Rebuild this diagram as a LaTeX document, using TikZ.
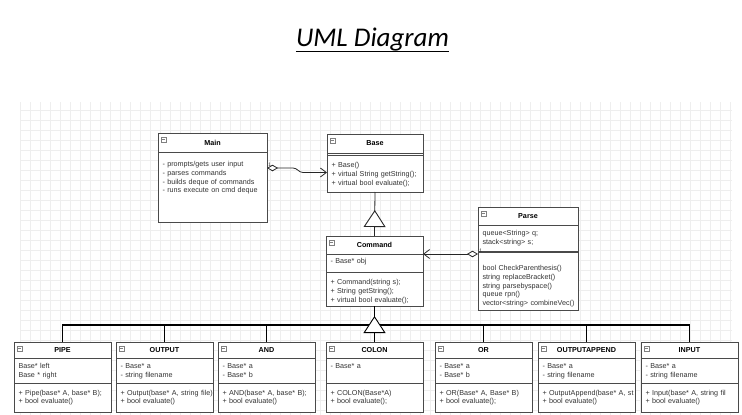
\documentclass[tikz,border=0pt]{standalone}
\usepackage{fontspec}
\setmainfont{Liberation Sans}
\newfontfamily\titlefont{Carlito}
\usetikzlibrary{positioning, arrows.meta, decorations.markings}

\definecolor{umlline}{HTML}{4A4A4A}
\definecolor{umltext}{HTML}{333333}
\definecolor{gridline}{HTML}{EEEEEE}

\begin{document}
\begin{tikzpicture}[x=1pt, y=-1pt,
  cls/.style={draw=umlline, line width=0.8pt, fill=white, inner sep=0pt, outer sep=0pt},
  hdr/.style={cls, anchor=north west, font=\bfseries\fontsize{7.2}{9}\selectfont},
  part/.style={cls, align=left, inner xsep=4.5pt, text=umltext, font=\fontsize{7.2}{8.8}\selectfont},
  subhdr/.style={hdr, minimum width=97pt, minimum height=16pt},
  subattr/.style={part, text width=88pt, text height=10.5pt, text depth=14.5pt},
  submeth/.style={part, text width=88pt, text height=12pt, text depth=17pt},
  mult/.style={font=\fontsize{5}{6}\selectfont, text=umltext, inner sep=1pt, anchor=south west},
  assoc/.style={black!85, line width=0.8pt, {Diamond[fill=white, length=11pt, width=6.5pt]}-{Straight Barb[length=6pt, width=9pt]}},
  inherit/.style={postaction={decorate}, decoration={markings, mark=at position 26pt with {\arrow{Triangle[fill=white, length=17pt, width=22pt, line width=0.9pt]}}}},
  tree/.style={black, line width=1.6pt}
]
\useasboundingbox (0,0) rectangle (742,415);

% background grid
\draw[gridline, line width=0.5pt, step=10pt] (20,102) grid (732,415);

% title
\node[font=\titlefont\itshape\fontsize{27}{32}\selectfont, inner sep=0pt, anchor=base] (title) at (372.5,46.5) {UML Diagram};
\draw[line width=1.6pt] ([yshift=-5pt]title.base west) -- ([yshift=-5pt]title.base east);

% top classes
\node[hdr, minimum width=109pt, minimum height=19pt] (main) at (158,133) {Main};
\node[part, text width=100pt, text height=14.5pt, text depth=55.5pt, below=0pt of main] (main-b)
  {- prompts/gets user input\\- parses commands\\- builds deque of commands\\- runs execute on cmd deque};

\node[hdr, minimum width=96pt, minimum height=19pt] (base) at (327,134) {Base};
\node[part, text width=87pt, text height=14.5pt, text depth=24.5pt, below=0pt of base] (base-m)
  {+ Base()\\+ virtual String getString();\\+ virtual bool evaluate();};
\draw[umlline, line width=0.8pt] ([yshift=-2pt]base.south west) -- ([yshift=-2pt]base.south east);

\node[hdr, minimum width=97pt, minimum height=18pt] (command) at (326,236) {Command};
\node[part, text width=88pt, text height=9.5pt, text depth=8.5pt, below=0pt of command] (command-a) {- Base* obj};
\node[part, text width=88pt, text height=12.5pt, text depth=21.5pt, below=0pt of command-a] (command-m)
  {+ Command(string s);\\+ String getString();\\+ virtual bool evaluate();};

\node[hdr, minimum width=100pt, minimum height=18pt] (parse) at (478,207) {Parse};
\node[part, text width=91pt, text height=10.5pt, text depth=16.5pt, below=0pt of parse] (parse-a)
  {queue<String> q;\\stack<string> s;};
\node[part, text width=91pt, text height=18.5pt, text depth=39.5pt, below=0pt of parse-a] (parse-m)
  {bool CheckParenthesis()\\string replaceBracket()\\string parsebyspace()\\queue rpn()\\\mbox{vector<string> combineVec()}};
\draw[umlline, line width=1.4pt] (parse-a.south west) -- (parse-a.south east);

% operator classes
\node[subhdr] (pipe) at (14,342) {PIPE};
\node[subattr, below=0pt of pipe] (pipe-a) {Base* left\\Base * right};
\node[submeth, below=0pt of pipe-a] (pipe-m) {+ Pipe(base* A, base* B);\\+ bool evaluate()};

\node[subhdr] (output) at (116,342) {OUTPUT};
\node[subattr, below=0pt of output] (output-a) {- Base* a\\- string filename};
\node[submeth, below=0pt of output-a] (output-m) {\mbox{+ Output(base* A, string file)}\\+ bool evaluate()};

\node[subhdr] (andop) at (218,342) {AND};
\node[subattr, below=0pt of andop] (andop-a) {- Base* a\\- Base* b};
\node[submeth, below=0pt of andop-a] (andop-m) {+ AND(base* A, base* B);\\+ bool evaluate()};

\node[subhdr] (colon) at (326,342) {COLON};
\node[subattr, below=0pt of colon] (colon-a) {- Base* a};
\node[submeth, below=0pt of colon-a] (colon-m) {+ COLON(Base*A)\\+ bool evaluate();};

\node[subhdr] (orop) at (435,342) {OR};
\node[subattr, below=0pt of orop] (orop-a) {- Base* a\\- Base* b};
\node[submeth, below=0pt of orop-a] (orop-m) {+ OR(Base* A, Base* B)\\+ bool evaluate();};

\node[subhdr] (append) at (538,342) {OUTPUTAPPEND};
\node[subattr, below=0pt of append] (append-a) {- Base* a\\- string filename};
\node[submeth, below=0pt of append-a] (append-m) {\mbox{+ OutputAppend(base* A, st}\\+ bool evaluate()};

\node[subhdr] (input) at (641,342) {INPUT};
\node[subattr, below=0pt of input] (input-a) {- Base* a\\- string filename};
\node[submeth, below=0pt of input-a] (input-m) {\mbox{+ Input(base* A, string fil}\\+ bool evaluate()};

% collapse icons
\foreach \c in {main, base, command, parse, pipe, output, andop, colon, orop, append, input}
  \draw[umlline!70, line width=0.5pt] ([xshift=3pt, yshift=-4pt]\c.north west) rectangle ++(5pt,-5pt)
    ([xshift=4.2pt, yshift=-6.5pt]\c.north west) -- ++(2.6pt,0pt);

% associations
\draw[assoc] ([yshift=-16pt]main-b.north east) node[mult] {1} -- ++(26,0)
  to[out=0, in=180] ([xshift=-24pt]base-m.west) -- (base-m.west);
\draw[assoc] ([yshift=-2pt]parse-m.north west) node[mult] {1} -- (command.south east);

% inheritance
\draw[inherit, black!85, line width=0.8pt] (command.north) -- (base-m.south);
\coordinate (bus) at ([yshift=-19pt]command-m.south);
\foreach \c in {pipe, output, andop, orop, append, input}
  \draw[tree] (\c.north) |- (bus);
\draw[tree, inherit] (colon.north) -- (command-m.south);

\end{tikzpicture}
\end{document}
